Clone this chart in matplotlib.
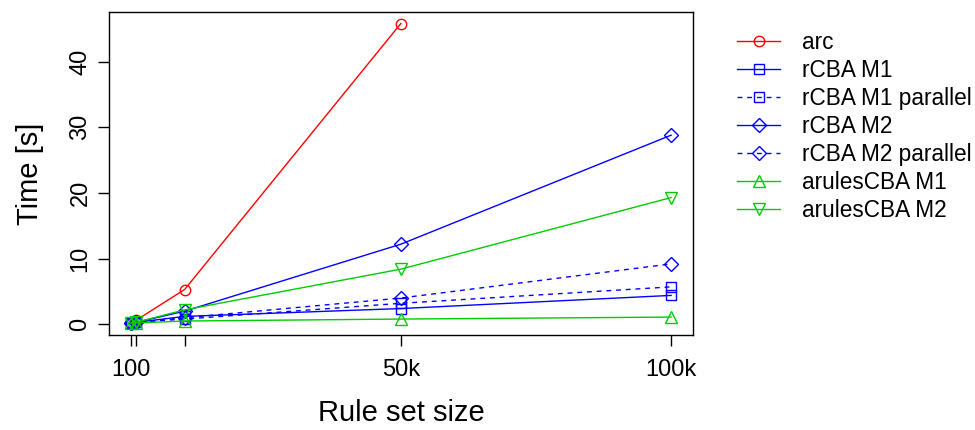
import matplotlib
matplotlib.use("Agg")
import matplotlib.pyplot as plt

plt.rcParams['font.family'] = ['Liberation Sans', 'DejaVu Sans']

sizes = [100, 1000, 10000, 50000, 100000]
arc_sizes = [100, 1000, 10000, 50000]

arc = [0.2, 0.6, 5.3, 45.8]
rcba_m1 = [0.2, 0.3, 1.2, 2.4, 4.4]
rcba_m1_par = [0.2, 0.3, 0.8, 3.2, 5.7]
rcba_m2 = [0.2, 0.3, 2.0, 12.2, 28.8]
rcba_m2_par = [0.2, 0.3, 1.0, 4.0, 9.2]
arules_m1 = [0.2, 0.2, 0.5, 0.8, 1.1]
arules_m2 = [0.2, 0.3, 2.2, 8.4, 19.3]

labels = ["arc", "rCBA M1", "rCBA M1 parallel", "rCBA M2", "rCBA M2 parallel",
          "arulesCBA M1", "arulesCBA M2"]

x_ticks = [100, 1000, 10000, 50000, 100000]
x_ticklabels = ["100", "", "", "50k", "100k"]
y_ticks = [0, 10, 20, 30, 40]

red = '#FF0000'
blue = '#0000FF'
green = '#00CD00'
dash = (0, (3.5, 3.5))

fig = plt.figure(figsize=(9.75, 4.3), dpi=100)
ax_l, ax_r, ax_b, ax_t = 0.1123, 0.7105, 0.2209, 0.9728
ax = fig.add_axes([ax_l, ax_b, ax_r - ax_l, ax_t - ax_b])

common = dict(lw=1.0, ms=7.5, mfc='none', mew=1.0)
ax.plot(arc_sizes, arc, color=red, marker='o', label=labels[0], **common)
ax.plot(sizes, rcba_m1, color=blue, marker='s', label=labels[1], **common)
ax.plot(sizes, rcba_m1_par, color=blue, marker='s', ls=dash, label=labels[2], **common)
ax.plot(sizes, rcba_m2, color=blue, marker='D', label=labels[3], **common)
ax.plot(sizes, rcba_m2_par, color=blue, marker='D', ls=dash, label=labels[4], **common)
ax.plot(sizes, arules_m1, color=green, marker='^', label=labels[5], **{**common, 'ms': 8.5})
ax.plot(sizes, arules_m2, color=green, marker='v', label=labels[6], **{**common, 'ms': 8.5})

ax.set_xlim(-3896, 103996)
ax.set_ylim(-1.63, 47.6)
ax.set_xticks(x_ticks)
ax.set_xticklabels(x_ticklabels)
ax.set_yticks(y_ticks)
ax.set_yticklabels([str(v) for v in y_ticks], rotation=90, va='center')
ax.tick_params(axis='both', direction='out', length=8, width=1, labelsize=17)
ax.tick_params(axis='x', pad=9)
ax.tick_params(axis='y', pad=5)
for s in ax.spines.values():
    s.set_linewidth(1.0)

fig.text((ax_l + ax_r) / 2, 1 - 413 / 430, "Rule set size", fontsize=21,
         ha='center', va='center')
fig.text(30 / 975, (ax_b + ax_t) / 2, "Time [s]", fontsize=21,
         ha='center', va='center', rotation=90)

fig.legend(loc='upper left', bbox_to_anchor=(0.756, 0.928), frameon=False,
           fontsize=16.3, handlelength=1.9, handletextpad=0.97, labelspacing=0.22,
           borderpad=0, borderaxespad=0)

fig.savefig("out.png", dpi=100)
